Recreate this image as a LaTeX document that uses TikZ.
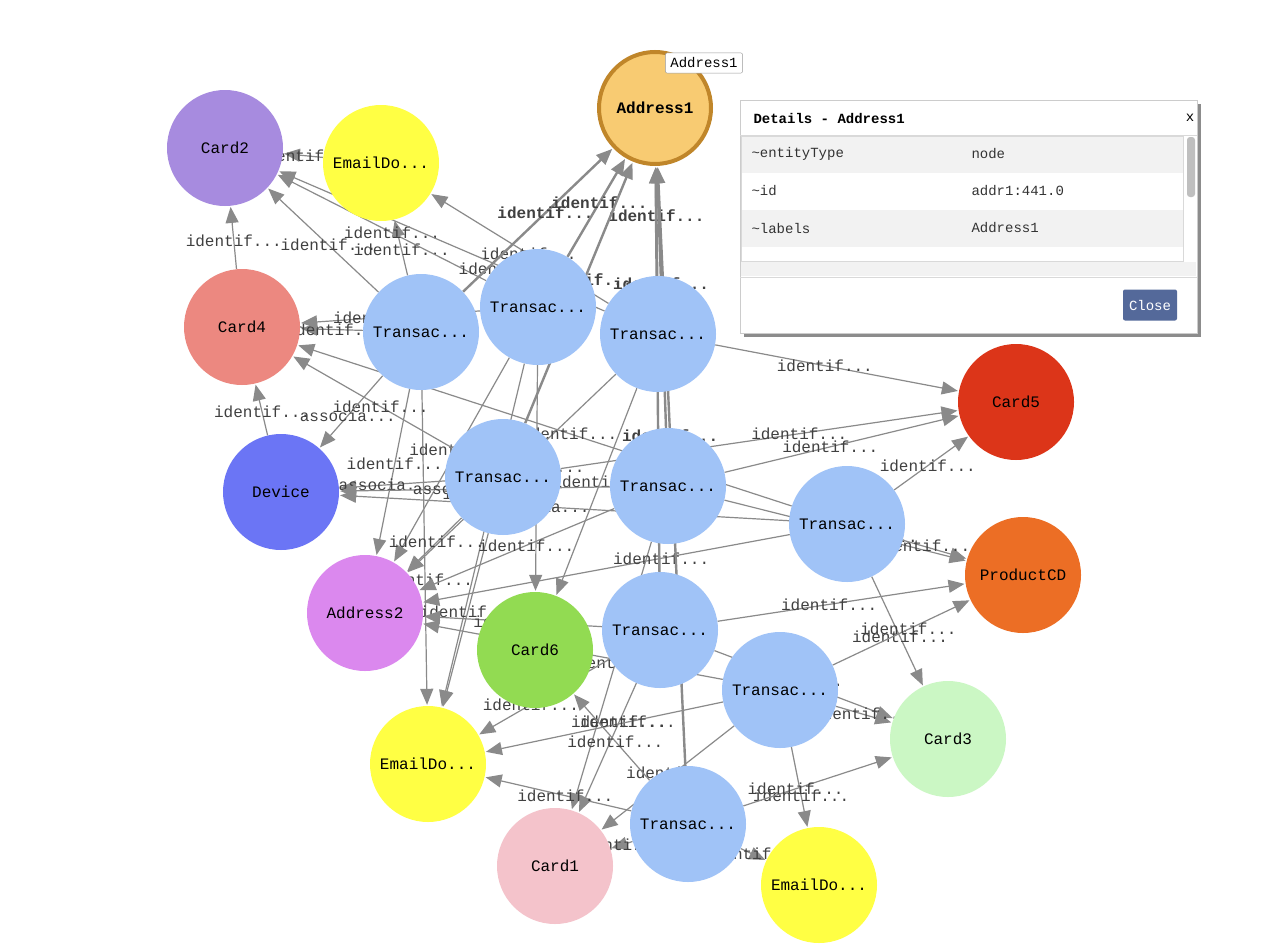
\documentclass[tikz,border=0pt]{standalone}
\usepackage{fontspec}
\setmonofont{Liberation Mono}
\usetikzlibrary{arrows.meta,shadows}
\definecolor{tr}{HTML}{A0C3F7}
\definecolor{ed}{HTML}{8A8A8A}
\definecolor{ylw}{HTML}{FFFF44}
\definecolor{adr}{HTML}{F8CB72}
\begin{document}
\begin{tikzpicture}[x=1pt,y=-1pt,
  ent/.style={circle,minimum size=116pt,inner sep=0pt,font=\ttfamily\fontsize{16}{16}\selectfont},
  trn/.style={ent,fill=tr},
  lnk/.style={draw=ed,line width=1.2pt,-{Triangle[length=16pt,width=13pt]},shorten >=1pt},
  lbl/.style={font=\ttfamily\fontsize{16}{16}\selectfont,text=black!75,inner sep=0pt}]
\useasboundingbox (0,0) rectangle (1285,950);
\fill[white] (0,0) rectangle (1285,950);
\path (655,108) coordinate(pA1) (225,148) coordinate(pC2) (381,163) coordinate(pE1)
 (242,327) coordinate(pC4) (281,492) coordinate(pDv) (365,613) coordinate(pA2)
 (535,650) coordinate(pC6) (428,764) coordinate(pE2) (555,866) coordinate(pC1)
 (819,885) coordinate(pE3) (948,739) coordinate(pC3) (1023,575) coordinate(pPC)
 (1016,402) coordinate(pC5);
\node[ent,fill=none] (A1) at (pA1) {};
\node[ent,fill=none] (C2) at (pC2) {};
\node[ent,fill=none] (E1) at (pE1) {};
\node[ent,fill=none] (C4) at (pC4) {};
\node[ent,fill=none] (Dv) at (pDv) {};
\node[ent,fill=none] (A2) at (pA2) {};
\node[ent,fill=none] (C6) at (pC6) {};
\node[ent,fill=none] (E2) at (pE2) {};
\node[ent,fill=none] (C1) at (pC1) {};
\node[ent,fill=none] (E3) at (pE3) {};
\node[ent,fill=none] (C3) at (pC3) {};
\node[ent,fill=none] (PC) at (pPC) {};
\node[ent,fill=none] (C5) at (pC5) {};
\path (421,332) coordinate(q1) (538,307) coordinate(q2) (658,334) coordinate(q3)
 (503,477) coordinate(q4) (668,486) coordinate(q5) (847,524) coordinate(q6)
 (660,630) coordinate(q9) (780,690) coordinate(q7) (688,824) coordinate(q8);
\foreach \i in {1,...,9}{\node[ent,fill=none] (T\i) at (q\i) {};}
% edges
\foreach \s/\t/\p in {T1/C2/0.45,T1/E1/0.45,T1/C4/0.45,T1/A2/0.45,T1/E2/0.6,
  T2/C2/0.45,T2/C4/0.55,T2/A2/0.45,T2/C6/0.45,T2/E2/0.35,
  T3/C5/0.45,T3/E1/0.45,T3/C2/0.3,T3/A2/0.6,T3/C6/0.45,
  T4/C4/0.45,T4/A2/0.45,T4/E2/0.45,T4/C5/0.6,
  T5/C5/0.45,T5/PC/0.6,T5/A2/0.45,T5/C1/0.45,
  T6/C5/0.45,T6/PC/0.3,T6/C3/0.55,T6/C4/0.45,T6/A2/0.35,
  T9/PC/0.45,T9/C3/0.45,T9/E2/0.6,T9/C1/0.3,T9/A2/0.45,
  T7/C3/0.45,T7/E3/0.6,T7/PC/0.55,T7/E2/0.4,T7/C1/0.45,T7/A2/0.6,
  T8/E2/0.45,T8/C1/0.45,T8/E3/0.45,T8/C3/0.35,T8/C6/0.45,
  E1/C2/0.45,C4/C2/0.45,Dv/C4/0.45}
  \draw[lnk] (\s) -- node[lbl,pos=\p]{identif...} (\t);
\foreach \s in {T1,T2,T3,T4,T5,T9,T8}
  \draw[lnk,line width=2.4pt] (\s) -- node[lbl,pos=0.55,font=\ttfamily\bfseries\fontsize{16}{16}\selectfont]{identif...} (A1);
\foreach \s in {T1,T4,T5,T6}
  \draw[lnk] (\s) -- node[lbl,pos=0.55]{associa...} (Dv);
% visible nodes on top
\foreach \i in {1,...,9}{\node[trn] at (q\i) {Transac...};}
\node[ent,fill=adr,draw={rgb,255:red,192;green,134;blue,42},line width=4pt,minimum size=112pt,font=\ttfamily\bfseries\fontsize{16}{16}\selectfont] at (pA1) {Address1};
\node[ent,fill={rgb,255:red,167;green,139;blue,223}] at (pC2) {Card2};
\node[ent,fill=ylw] at (pE1) {EmailDo...};
\node[ent,fill={rgb,255:red,236;green,136;blue,128}] at (pC4) {Card4};
\node[ent,fill={rgb,255:red,107;green,117;blue,245}] at (pDv) {Device};
\node[ent,fill={rgb,255:red,219;green,136;blue,238}] at (pA2) {Address2};
\node[ent,fill={rgb,255:red,146;green,219;blue,82}] at (pC6) {Card6};
\node[ent,fill=ylw] at (pE2) {EmailDo...};
\node[ent,fill={rgb,255:red,244;green,195;blue,203}] at (pC1) {Card1};
\node[ent,fill=ylw] at (pE3) {EmailDo...};
\node[ent,fill={rgb,255:red,203;green,247;blue,196}] at (pC3) {Card3};
\node[ent,fill={rgb,255:red,236;green,110;blue,37}] at (pPC) {ProductCD};
\node[ent,fill={rgb,255:red,220;green,53;blue,25}] at (pC5) {Card5};
% tooltip
\node[draw=black!40,fill=white,rounded corners=2pt,font=\ttfamily\fontsize{14}{14}\selectfont,inner sep=5pt] (tip) at (704,63) {Address1};
% details panel
\fill[black!45] (744,104) rectangle (1201,337);
\fill[white,draw=black!20] (740,100) rectangle (1197,333);
\draw[black!15] (740,135) -- (1197,135);
\fill[black!5] (741,136) rectangle (1183,173);
\fill[black!5] (741,210) rectangle (1183,247);
\draw[black!15] (741,261) rectangle (1183,136);
\fill[black!5] (741,262) rectangle (1196,276);
\draw[black!15] (740,277) -- (1197,277);
\fill[black!25,rounded corners=3pt] (1187,137) rectangle (1195,197);
\node[anchor=west,font=\ttfamily\bfseries\fontsize{14}{14}\selectfont] (ttl) at (750,118) {Details - Address1};
\node[font=\ttfamily\fontsize{14}{14}\selectfont] (xx) at (1190,118) {x};
\foreach \y/\k/\v in {154/{\textasciitilde entityType}/node,191/{\textasciitilde id}/addr1:441.0,228/{\textasciitilde labels}/Address1}{
  \node[anchor=west,font=\ttfamily\fontsize{14}{14}\selectfont,text=black!80] at (748,\y) {\k};
  \node[anchor=west,font=\ttfamily\fontsize{14}{14}\selectfont,text=black!80] at (968,\y) {\v};}
\node[fill={rgb,255:red,84;green,105;blue,154},text=white,rounded corners=2pt,font=\ttfamily\fontsize{14}{14}\selectfont,minimum width=54pt,minimum height=31pt] (cls) at (1150,305) {Close};
\end{tikzpicture}
\end{document}
